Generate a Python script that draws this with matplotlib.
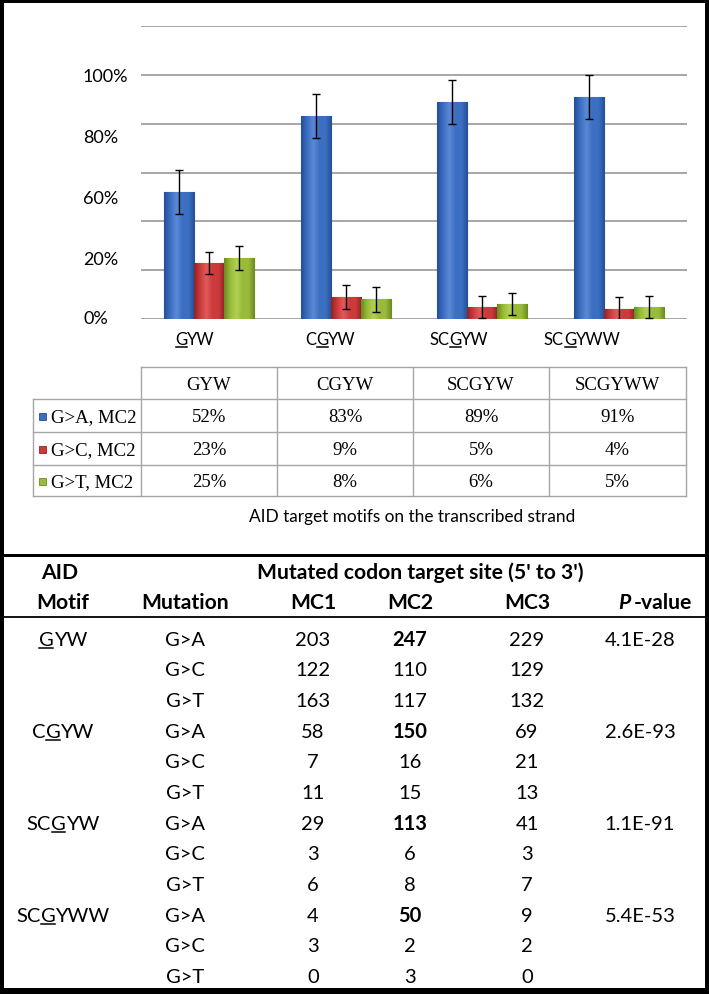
import numpy as np
import matplotlib
matplotlib.use("Agg")
import matplotlib.pyplot as plt
from matplotlib.patches import Rectangle
from matplotlib.colors import LinearSegmentedColormap

# ---- data ----
motifs = ["GYW", "CGYW", "SCGYW", "SCGYWW"]
ul_pos = [0, 1, 2, 2]              # underlined G in each motif
series = ["G>A, MC2", "G>C, MC2", "G>T, MC2"]
ga_pct = [52, 83, 89, 91]
gc_pct = [23, 9, 5, 4]
gt_pct = [25, 8, 6, 5]
ga_err = [9, 9, 9, 9]
gc_err = [4.5, 5, 4.5, 5]
gt_err = [5, 5, 4.5, 4.5]
ytick_vals = [1, 25, 50, 75, 100]
ytick_labels = ["0%", "20%", "60%", "80%", "100%"]
grid_vals = [0, 20, 40, 60, 80, 100, 120]

mutations = ["G>A", "G>C", "G>T"]
mc1 = [[203, 122, 163], [58, 7, 11], [29, 3, 6], [4, 3, 0]]
mc2 = [[247, 110, 117], [150, 16, 15], [113, 6, 8], [50, 2, 3]]
mc3 = [[229, 129, 132], [69, 21, 13], [41, 3, 7], [9, 2, 0]]
pvals = ["4.1E-28", "2.6E-93", "1.1E-91", "5.4E-53"]

colors = ["#3c6fc2", "#cc3b3b", "#9abb3a"]
darks = ["#234f96", "#8f2424", "#6c8a22"]
lights = ["#5a8ad6", "#e05a5a", "#b2d052"]

W, H = 709, 995
fig = plt.figure(figsize=(W / 100, H / 100), dpi=100)
bg = fig.add_axes([0, 0, 1, 1])
bg.set_xlim(0, W)
bg.set_ylim(H, 0)
bg.axis("off")
renderer = fig.canvas.get_renderer()

SANS = "Lato"
SERIF = "Liberation Serif"


def pieces_text(x, y, pieces, ha="center", ul=None, size=12, weight="normal",
                gap=0):
    # draw a row of text pieces on the pixel axes; y is the baseline
    texts = []
    for s, style in pieces:
        t = bg.text(0, y, s, va="baseline", ha="left", fontsize=size,
                    family=SANS, weight=weight, style=style)
        texts.append(t)
    widths = [t.get_window_extent(renderer).width for t in texts]
    total = sum(widths) + gap * (len(texts) - 1)
    x0 = {"center": x - total / 2, "right": x - total, "left": x}[ha]
    cur = x0
    starts = []
    for t, w in zip(texts, widths):
        t.set_x(cur)
        starts.append(cur)
        cur += w + gap
    if ul is not None:
        a = starts[ul]
        bg.plot([a + 0.5, a + widths[ul] - 0.5], [y + 2.5, y + 2.5],
                color="black", lw=1.1)


def motif_text(x, y, m, k, ha="center", size=12):
    parts = [(m[:k], "normal"), (m[k], "normal"), (m[k + 1:], "normal")]
    parts = [p for p in parts if p[0]]
    idx = 0 if k == 0 else 1
    pieces_text(x, y, parts, ha=ha, ul=idx, size=size)


# ---- bar chart ----
ax = fig.add_axes([141 / W, 1 - 320 / H, 546 / W, 293 / H])
ax.set_facecolor("none")
for g in grid_vals:
    ax.axhline(g, color="#a6a6a6", lw=1.4, zorder=0)
x = list(range(len(motifs)))
bw = 0.22
grad = np.linspace(0, 1, 64).reshape(1, -1)
for off, vals, errs, c, dk, lt in zip([-bw, 0, bw], [ga_pct, gc_pct, gt_pct],
                                      [ga_err, gc_err, gt_err], colors,
                                      darks, lights):
    bars = ax.bar([i + off for i in x], vals, width=bw, color=c,
                  edgecolor=dk, lw=0.8, zorder=2)
    cmap = LinearSegmentedColormap.from_list("b", [dk, c, lt, c, c, dk])
    for p in bars:
        x0, y0 = p.get_xy()
        im = ax.imshow(grad, extent=[x0, x0 + p.get_width(), y0,
                                     y0 + p.get_height()],
                       aspect="auto", cmap=cmap, zorder=2.1)
        im.set_clip_path(p)
    ax.errorbar([i + off for i in x], vals, yerr=errs, fmt="none",
                ecolor="black", elinewidth=1, capsize=3, capthick=1, zorder=3)
ax.set_xlim(-0.5, len(motifs) - 0.5)
ax.set_ylim(0, 120)
ax.set_yticks(ytick_vals)
ax.set_yticklabels(ytick_labels, fontsize=13, family=SANS)
for lab in ax.get_yticklabels():
    lab.set_ha("left")
ax.tick_params(axis="y", length=0, pad=58 * 0.72)
ax.set_xticks([])
for s in ax.spines.values():
    s.set_visible(False)

cat_x = [175, 305, 429, 544]
for m, k, cx in zip(motifs, ul_pos, cat_x):
    motif_text(cx, 345, m, k, ha="left", size=12)

# ---- data table under chart ----
tcol = [141, 277, 413, 549, 686]
trow = [368, 400, 433, 466, 497]
lc = "#a6a6a6"
ts = 13.5
bg.plot([tcol[0], tcol[-1]], [trow[0], trow[0]], color=lc, lw=1)
for yy in trow[1:]:
    bg.plot([33, tcol[-1]], [yy, yy], color=lc, lw=1)
bg.plot([33, 33], [trow[1], trow[-1]], color=lc, lw=1)
for xx in tcol:
    bg.plot([xx, xx], [trow[0], trow[-1]], color=lc, lw=1)
for j, m in enumerate(motifs):
    bg.text((tcol[j] + tcol[j + 1]) / 2, (trow[0] + trow[1]) / 2 + 1, m,
            ha="center", va="center", fontsize=ts, family=SERIF)
for r, (name, vals, c, dk) in enumerate(zip(series, [ga_pct, gc_pct, gt_pct],
                                            colors, darks)):
    yc = (trow[r + 1] + trow[r + 2]) / 2 + 1
    bg.add_patch(Rectangle((38.5, yc - 3.5), 7, 7, facecolor=c, edgecolor=dk,
                           lw=0.6))
    bg.text(51, yc, name, ha="left", va="center", fontsize=ts, family=SERIF)
    for j, v in enumerate(vals):
        bg.text((tcol[j] + tcol[j + 1]) / 2, yc, f"{v}%", ha="center",
                va="center", fontsize=ts, family=SERIF)
bg.text(412, 517, "AID target motifs on the transcribed strand", ha="center",
        va="center", fontsize=12.4, family=SANS)

# ---- bottom count table ----
cx = {"motif": 63, "mut": 185, "mc1": 313, "mc2": 410, "mc3": 527, "p": 640}
hs = 15.2
ds = 14.5
bg.text(60, 573, "AID", ha="center", va="center", fontsize=hs, family=SANS,
        weight="bold")
bg.text(420, 573, "Mutated codon target site (5' to 3')", ha="center",
        va="center", fontsize=hs, family=SANS, weight="bold")
for key, lab in [("motif", "Motif"), ("mut", "Mutation"), ("mc1", "MC1"),
                 ("mc2", "MC2"), ("mc3", "MC3")]:
    bg.text(cx[key], 603, lab, ha="center", va="center", fontsize=hs,
            family=SANS, weight="bold")
pieces_text(692, 609, [("P", "italic"), ("-value", "normal")], ha="right",
            size=hs, weight="bold", gap=3)
bg.plot([4, 705], [618, 618], color="black", lw=1.3)

row_y0, row_dy = 640, 30.7
r = 0
for i, m in enumerate(motifs):
    for k, mut in enumerate(mutations):
        yy = row_y0 + r * row_dy
        if k == 0:
            motif_text(cx["motif"], yy + 6, m, ul_pos[i], size=ds)
            bg.text(cx["p"], yy, pvals[i], ha="center", va="center",
                    fontsize=ds, family=SANS)
        bg.text(cx["mut"], yy, mut, ha="center", va="center", fontsize=ds,
                family=SANS)
        bg.text(cx["mc1"], yy, str(mc1[i][k]), ha="center", va="center",
                fontsize=ds, family=SANS)
        bg.text(cx["mc2"], yy, str(mc2[i][k]), ha="center", va="center",
                fontsize=ds, family=SANS,
                weight="bold" if k == 0 else "normal")
        bg.text(cx["mc3"], yy, str(mc3[i][k]), ha="center", va="center",
                fontsize=ds, family=SANS)
        r += 1

# ---- black frames ----
bg.plot([2, 2], [0, H], color="black", lw=4 * 0.72)
bg.plot([0, W], [2, 2], color="black", lw=4 * 0.72)
bg.plot([706.5, 706.5], [0, H], color="black", lw=5 * 0.72)
bg.plot([0, W], [992, 992], color="black", lw=6 * 0.72)
bg.plot([0, W], [556, 556], color="black", lw=3 * 0.72)

fig.savefig("out.png", dpi=100)
